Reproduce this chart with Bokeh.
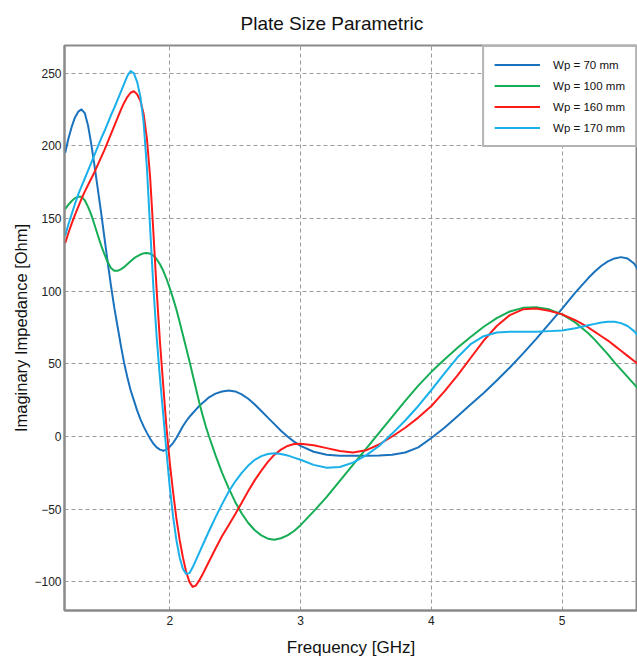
from bokeh.plotting import figure
from bokeh.embed import file_html
from bokeh.resources import INLINE
from bokeh.models import Range1d, SingleIntervalTicker, Legend, LegendItem

title_text = "Plate Size Parametric"
x_label = "Frequency [GHz]"
y_label = "Imaginary Impedance [Ohm]"
series_names = ["Wp = 70 mm", "Wp = 100 mm", "Wp = 160 mm", "Wp = 170 mm"]

freq = [1.2, 1.225, 1.25, 1.275, 1.3, 1.325, 1.35, 1.375, 1.4, 1.425, 1.45, 1.475, 1.5,
        1.525, 1.55, 1.575, 1.6, 1.625, 1.65, 1.675, 1.7, 1.725, 1.75, 1.775, 1.8,
        1.825, 1.85, 1.875, 1.9, 1.925, 1.95, 1.975, 2.0, 2.025, 2.05, 2.075, 2.1,
        2.125, 2.15, 2.175, 2.2, 2.225, 2.25, 2.275, 2.3,
        2.35, 2.4, 2.45, 2.5, 2.55, 2.6, 2.65, 2.7, 2.75, 2.8, 2.85, 2.9, 2.95, 3.0,
        3.1, 3.2, 3.3, 3.4, 3.5, 3.6, 3.7, 3.8, 3.9, 4.0, 4.1, 4.2, 4.3, 4.4, 4.5,
        4.6, 4.7, 4.8, 4.9, 5.0, 5.1, 5.2,
        5.25, 5.3, 5.35, 5.4, 5.45, 5.5, 5.55, 5.6]

wp70 = [195, 205, 213, 219.5, 223.5, 225, 222.5, 214, 201, 186, 170, 154, 137,
        120, 104, 89, 76, 63, 51, 41, 32, 25, 18, 12, 7,
        2.5, -1.5, -5, -7.5, -9, -9.8, -9, -7, -4.5, -1, 3, 7,
        10.5, 13.5, 16, 18.5, 21, 23, 25, 27,
        29.5, 31, 31.7, 31, 29, 26, 22, 17.5, 13, 8.5, 4, 0, -3.5, -6.5,
        -10.5, -12.5, -13.2, -13.3, -13.2, -13, -12.5, -11, -7.5, -1, 6, 14, 22, 30, 38.5,
        47.5, 57, 67, 77.5, 88, 99, 109,
        113.5, 117.5, 120.5, 122.5, 123.4, 122.5, 119, 112]

wp100 = [156.5, 159.5, 162, 164, 165, 165, 162.5, 158, 152.5, 145.5, 138.5, 131.5, 125.5,
         120, 116, 114, 114, 115, 116.5, 118.5, 120.5, 122.5, 124, 125.2, 126,
         126.2, 125.8, 124.5, 122, 118.5, 114, 108.5, 102, 95, 87.5, 79, 70,
         61, 52, 42.5, 33, 23.5, 15, 7, 0,
         -13, -25, -35.5, -45, -53, -59.5, -64.5, -68, -70.3, -71, -70, -68, -65, -61,
         -51.5, -41.5, -30.5, -19.5, -8.5, 2.5, 13.5, 24.5, 35, 44.5, 53, 61, 68.5, 75.5, 81.5,
         86, 88.5, 89, 87.5, 84, 78.5, 71,
         66.5, 61.5, 56.5, 51, 46, 41, 36, 31]

wp160 = [133, 140, 146.5, 152.5, 158, 163.5, 168.5, 173, 177.5, 182, 187, 192, 197,
         202.5, 208, 213.5, 219, 224.5, 229.5, 233.5, 236.5, 237.6, 235.5, 231, 222,
         205, 178, 140, 100, 65, 35, 6, -18, -38, -56, -71, -83,
         -93, -100, -103.5, -102.5, -99, -95, -90.5, -86,
         -77, -68.5, -61, -53.5, -45.5, -37.5, -30, -23.5, -17.5, -12.5, -9, -6.5, -5.2, -5,
         -6, -8, -10, -11, -9.5, -5.5, 0, 6, 13, 21, 31, 42, 54, 66, 76,
         83.5, 87.5, 88, 86.5, 84, 80, 75,
         72, 69, 66, 62.5, 59, 55.5, 52, 48.5]

wp170 = [138, 146, 153, 160, 166.5, 172, 177.5, 183, 188.5, 194, 199.5, 205, 210,
         215.5, 221, 226, 231.5, 237, 242.5, 248, 251.4, 250, 244, 234, 216,
         185, 143, 102, 68, 40, 15, -11, -35, -55, -71, -83, -91,
         -94.5, -94, -90, -85, -80, -75, -70, -65,
         -55.5, -46.5, -38, -31, -25, -20, -16, -13.5, -12, -11.5, -12, -13, -14.5, -16,
         -19.5, -21.5, -21, -18, -13, -6.5, 2, 11, 21, 32, 43.5, 54.5, 63.5, 69, 71.5,
         72, 72, 72, 72.5, 73, 74.5, 76.5,
         77.5, 78.5, 79, 79, 78, 76, 72.5, 67]

colors = ["#1a72bd", "#16ad55", "#ff1a1a", "#1ab0ea"]

FONT = "Liberation Sans"

p = figure(width=637, height=663, output_backend="svg", toolbar_location=None,
           x_range=Range1d(1.195, 5.576), y_range=Range1d(-119.7, 269),
           min_border_left=64, min_border_right=0, min_border_top=45, min_border_bottom=53)

p.title.text = title_text
p.title.text_font = FONT
p.title.text_font_size = "19px"
p.title.text_font_style = "normal"
p.title.text_color = "#111111"
p.title.align = "left"
p.title.offset = 176
p.title.vertical_align = "top"
p.title.standoff = 20

p.background_fill_color = "white"
p.border_fill_color = "white"
p.outline_line_color = "#8a8a8a"
p.outline_line_width = 2

p.xaxis.ticker = SingleIntervalTicker(interval=1, num_minor_ticks=0)
p.yaxis.ticker = SingleIntervalTicker(interval=50, num_minor_ticks=0)

for ax in (p.xaxis[0], p.yaxis[0]):
    ax.axis_line_color = "#8a8a8a"
    ax.axis_line_width = 2
    ax.major_tick_line_color = None
    ax.minor_tick_line_color = None
    ax.major_tick_out = 0
    ax.major_tick_in = 0
    ax.minor_tick_out = 0
    ax.minor_tick_in = 0
    ax.major_label_text_font = FONT
    ax.major_label_text_font_size = "12px"
    ax.major_label_text_color = "#222222"
    ax.axis_label_text_font = FONT
    ax.axis_label_text_font_style = "normal"
    ax.axis_label_text_color = "#111111"

p.xaxis.axis_label = x_label
p.xaxis.axis_label_text_font_size = "17px"
p.xaxis.major_label_standoff = 5
p.xaxis.axis_label_standoff = 10
p.yaxis.axis_label = y_label
p.yaxis.axis_label_text_font_size = "16.5px"
p.yaxis.major_label_standoff = 3
p.yaxis.axis_label_standoff = 1

for g in (p.xgrid[0], p.ygrid[0]):
    g.grid_line_color = "#9a9a9a"
    g.grid_line_dash = "4 3"
    g.grid_line_width = 1

items = []
for name, ys, c in zip(series_names, [wp70, wp100, wp160, wp170], colors):
    r = p.line(freq, ys, line_color=c, line_width=2, line_join="round")
    items.append(LegendItem(label=name, renderers=[r]))

legend = Legend(items=items, location="top_right", margin=0, padding=10,
                spacing=6, label_height=15, glyph_height=15, glyph_width=46,
                label_standoff=13, label_text_font=FONT, label_text_font_size="11.5px",
                label_text_color="#111111", border_line_color="#6a6a6a",
                border_line_width=2, background_fill_color="white", background_fill_alpha=1)
p.add_layout(legend, "center")

open("out.html", "w").write(file_html(p, INLINE))
